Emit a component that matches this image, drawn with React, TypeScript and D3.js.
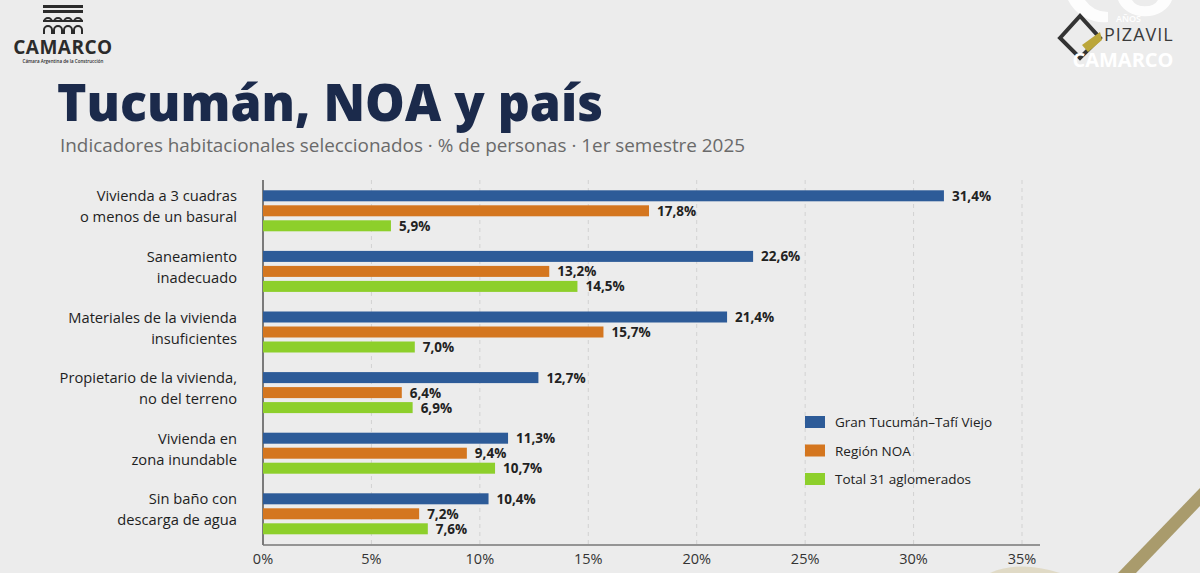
import React from "react";
import * as d3 from "d3";

const categories: string[][] = [
  ["Vivienda a 3 cuadras", "o menos de un basural"],
  ["Saneamiento", "inadecuado"],
  ["Materiales de la vivienda", "insuficientes"],
  ["Propietario de la vivienda,", "no del terreno"],
  ["Vivienda en", "zona inundable"],
  ["Sin baño con", "descarga de agua"],
];
const seriesNames = ["Gran Tucumán–Tafí Viejo", "Región NOA", "Total 31 aglomerados"];
const granTucuman = [31.4, 22.6, 21.4, 12.7, 11.3, 10.4];
const regionNOA = [17.8, 13.2, 15.7, 6.4, 9.4, 7.2];
const total31 = [5.9, 14.5, 7.0, 6.9, 10.7, 7.6];
const xTicks = [0, 5, 10, 15, 20, 25, 30, 35];
const colors = ["#2d5b98", "#d4761f", "#8dcf2b"];

const W = 1200;
const H = 573;

export default function App() {
  const series = [granTucuman, regionNOA, total31];
  const x = d3.scaleLinear().domain([0, 35]).range([263, 1022]);
  const y = d3
    .scaleBand<number>()
    .domain(categories.map((_, i) => i))
    .range([180, 180 + 6 * 60.6])
    .padding(0);
  const sub = d3
    .scaleBand<number>()
    .domain([0, 1, 2])
    .range([-20, 21])
    .paddingInner(4 / 15)
    .paddingOuter(0);
  const fmt = (v: number) => d3.format(".1f")(v).replace(".", ",") + "%";
  const plotTop = 180;
  const plotBottom = 545;
  const font = "'Open Sans', 'Noto Sans', sans-serif";

  return (
    <svg
      width={W}
      height={H}
      style={{ position: "fixed", left: 0, top: 0, background: "#ececec" }}
      fontFamily={font}
    >
      <rect x={0} y={0} width={W} height={H} fill="#ececec" />

      {/* CAMARCO logo top-left */}
      <g fill="#2b2b2b">
        <rect x={43} y={5} width={40} height={3} />
        <rect x={43} y={10} width={40} height={3} />
        {[0, 1, 2, 3].map((k) => (
          <path
            key={"a" + k}
            d={`M${43 + k * 10},22 a5,5 0 0 1 10,0 v0 h-2 a3,3 0 0 0 -6,0 h-2 z`}
          />
        ))}
        <rect x={43} y={20} width={40} height={2} />
        {[0, 1, 2, 3].map((k) => (
          <path
            key={"b" + k}
            d={`M${43 + k * 10},34 v-4 a5,5 0 0 1 10,0 v4 h-2 v-4 a3,3 0 0 0 -6,0 v4 z`}
          />
        ))}
        <text x={63} y={54} fontSize={19} fontWeight={700} textAnchor="middle" letterSpacing={0.5}>
          CAMARCO
        </text>
        <text x={63} y={63} fontSize={4.5} fontWeight={600} textAnchor="middle">
          Cámara Argentina de la Construcción
        </text>
      </g>

      {/* top-right logo */}
      <g>
        <path d="M1068,0 A40,40 0 0 0 1108,22 L1108,12 A28,28 0 0 1 1085,0 Z" fill="#ffffff" opacity={0.9} />
        <path d="M1118,0 A28,22 0 0 0 1172,0 L1158,0 A14,10 0 0 1 1132,0 Z" fill="#ffffff" opacity={0.9} />
        <path d="M1060,38 L1080,16 L1100,38 L1080,58 Z" fill="none" stroke="#333" strokeWidth={4} />
        <path d="M1082,45 L1100,32 L1102,40 L1088,52 Z" fill="#bba63a" />
        <text x={1116} y={22} fontSize={9} fill="#fff" fontWeight={600}>AÑOS</text>
        <text x={1104} y={41} fontSize={18} fill="#3b3b3b" fontWeight={400} letterSpacing={1}>PIZAVIL</text>
        <text x={1123} y={67} fontSize={20} fill="#fff" fontWeight={700} textAnchor="middle">CAMARCO</text>
      </g>

      {/* bottom-right decoration */}
      <path d="M1118,573 L1200,488 L1200,506 L1136,573 Z" fill="#a99b6c" />
      <path d="M990,573 Q1020,560 1060,573 Z" fill="#d9cfae" opacity={0.6} />

      {/* Title */}
      <text x={57} y={121} fontSize={51} fontWeight={800} fill="#1b2a4b" textLength={546} lengthAdjust="spacingAndGlyphs">
        Tucumán, NOA y país
      </text>
      <text x={60} y={152} fontSize={18} fill="#6a6a6a" textLength={685} lengthAdjust="spacingAndGlyphs">
        Indicadores habitacionales seleccionados · % de personas · 1er semestre 2025
      </text>

      {/* Gridlines */}
      {xTicks.slice(1).map((t) => (
        <line
          key={"g" + t}
          x1={x(t)}
          x2={x(t)}
          y1={plotTop}
          y2={plotBottom}
          stroke="#d2d2d2"
          strokeWidth={1}
          strokeDasharray="4,4"
        />
      ))}

      {/* Axes */}
      <line x1={x(0)} x2={x(0)} y1={plotTop} y2={plotBottom} stroke="#555" strokeWidth={1.5} />
      <line x1={x(0)} x2={1040} y1={plotBottom} y2={plotBottom} stroke="#777" strokeWidth={1.5} />
      {xTicks.map((t) => (
        <text
          key={"t" + t}
          x={x(t)}
          y={564}
          fontSize={14.5}
          fill="#333"
          textAnchor="middle"
        >
          {t + "%"}
        </text>
      ))}

      {/* Bars */}
      {categories.map((cat, i) => {
        const cy = (y(i) as number) + y.bandwidth() / 2;
        return (
          <g key={"c" + i}>
            {cat.map((line, j) => (
              <text
                key={j}
                x={237}
                y={cy - 9 + j * 21}
                fontSize={14.7}
                fontWeight={500}
                fill="#1e1e1e"
                textAnchor="end"
              >
                {line}
              </text>
            ))}
            {series.map((s, k) => {
              const by = cy + (sub(k) as number);
              return (
                <g key={k}>
                  <rect
                    x={x(0)}
                    y={by}
                    width={x(s[i]) - x(0)}
                    height={sub.bandwidth()}
                    fill={colors[k]}
                  />
                  <text
                    x={x(s[i]) + 8}
                    y={by + sub.bandwidth() / 2 + 5}
                    fontSize={13.5}
                    fontWeight={700}
                    fill="#222"
                  >
                    {fmt(s[i])}
                  </text>
                </g>
              );
            })}
          </g>
        );
      })}

      {/* Legend */}
      {seriesNames.map((n, k) => {
        const ly = 422 + k * 28.5;
        return (
          <g key={"l" + k}>
            <rect x={805} y={ly - 6} width={20} height={12} fill={colors[k]} />
            <text x={835} y={ly + 5} fontSize={13.5} fill="#222">
              {n}
            </text>
          </g>
        );
      })}
    </svg>
  );
}
